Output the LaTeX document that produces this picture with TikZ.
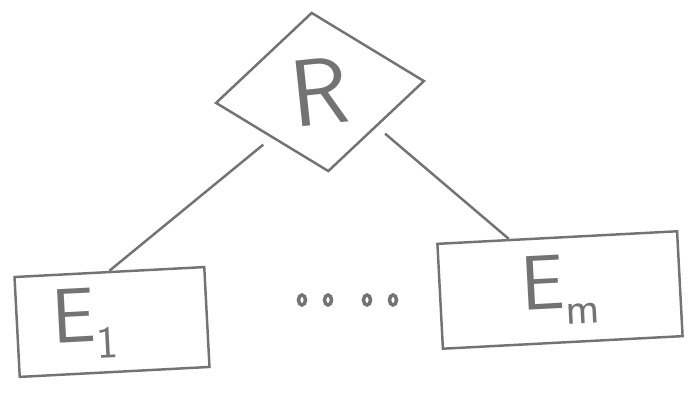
\documentclass[tikz,border=0pt]{standalone}
\usepackage{tikz}
\usetikzlibrary{calc,positioning,shapes.geometric}
\definecolor{pencil}{rgb}{0.45,0.45,0.45}
\newcommand{\lowsub}[1]{\raisebox{-0.22em}{\fontsize{26}{28}\selectfont #1}}

\begin{document}
\begin{tikzpicture}[
    line width=1.4pt,
    draw=pencil,
    text=pencil,
    every node/.style={font=\sffamily},
    relship/.style={diamond, draw=pencil, aspect=1.33, minimum width=4.2cm,
      minimum height=3.2cm, inner sep=0pt, rotate=6,
      font=\fontsize{54}{60}\selectfont\sffamily},
    entity/.style={rectangle, draw=pencil, inner sep=0pt, rotate=3,
      font=\fontsize{44}{50}\selectfont\sffamily}
  ]
  \useasboundingbox (0,0) rectangle (13.82,7.88);

  % relationship
  \node[relship] (R) at (6.4,6.04) {R};

  % entities
  \node[entity, minimum width=3.8cm, minimum height=2.0cm, text width=2.4cm]
    (E1) at (2.24,1.44) {E\lowsub{1}};
  \node[entity, minimum width=4.8cm, minimum height=2.1cm] (Em) at (11.2,2.08)
    {E\lowsub{m}};

  % connectors
  \draw[pencil, shorten <=6pt] (R.south west) -- (E1.north);
  \draw[pencil, shorten <=6pt] (R.south east)
    -- ($(Em.north west)!0.3!(Em.north east)$);

  % dots
  \foreach \x in {6.04, 6.56, 7.34, 7.86}
    \draw[pencil, line width=2pt] (\x,1.88) ellipse (0.07 and 0.1);
\end{tikzpicture}
\end{document}
